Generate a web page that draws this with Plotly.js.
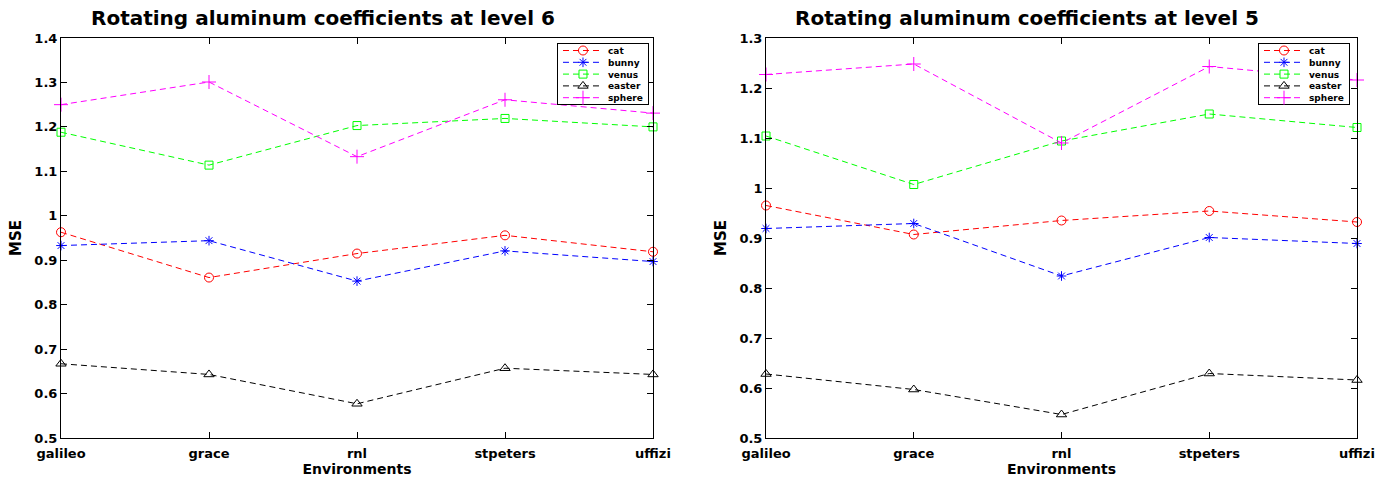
<!DOCTYPE html>
<html>
<head>
<meta charset="utf-8">
<script src="https://cdn.plot.ly/plotly-3.0.1.min.js"></script>
<style>html,body{margin:0;padding:0;background:#fff;}#chart{width:1390px;height:478px;}</style>
</head>
<body>
<div id="chart"></div>
<script>
const environments = ["galileo", "grace", "rnl", "stpeters", "uffizi"];
const seriesNames = ["cat", "bunny", "venus", "easter", "sphere"];

// Level 6 (left panel)
const level6Cat    = [0.963, 0.861, 0.915, 0.956, 0.919];
const level6Bunny  = [0.933, 0.944, 0.853, 0.921, 0.897];
const level6Venus  = [1.188, 1.114, 1.203, 1.219, 1.200];
const level6Easter = [0.667, 0.643, 0.577, 0.657, 0.643];
const level6Sphere = [1.250, 1.301, 1.133, 1.261, 1.231];

// Level 5 (right panel)
const level5Cat    = [0.965, 0.907, 0.935, 0.954, 0.932];
const level5Bunny  = [0.919, 0.929, 0.824, 0.901, 0.889];
const level5Venus  = [1.104, 1.007, 1.094, 1.148, 1.121];
const level5Easter = [0.628, 0.597, 0.547, 0.629, 0.616];
const level5Sphere = [1.227, 1.248, 1.090, 1.243, 1.216];

const titles = ["Rotating aluminum coefficients at level 6", "Rotating aluminum coefficients at level 5"];

const styles = [
  {color: "#ff0000", symbol: "circle-open", size: 9},
  {color: "#0000ff", symbol: "asterisk-open", size: 8},
  {color: "#00ff00", symbol: "square-open", size: 8},
  {color: "#000000", symbol: "triangle-up-open", size: 9},
  {color: "#ff00ff", symbol: "cross-thin-open", size: 10}
];

const FONT = "DejaVu Sans, Arial, sans-serif";
const panels = [
  {values: [level6Cat, level6Bunny, level6Venus, level6Easter, level6Sphere], xa: "x", ya: "y", legend: "legend"},
  {values: [level5Cat, level5Bunny, level5Venus, level5Easter, level5Sphere], xa: "x2", ya: "y2", legend: "legend2"}
];

const traces = [];
panels.forEach(p => {
  p.values.forEach((vals, i) => {
    const s = styles[i];
    traces.push({
      type: "scatter", mode: "lines+markers",
      x: environments, y: vals, name: seriesNames[i],
      xaxis: p.xa, yaxis: p.ya, legend: p.legend,
      cliponaxis: false,
      line: {color: s.color, width: 1, dash: "6px,4px"},
      marker: {symbol: s.symbol, size: s.size, color: s.color, line: {color: s.color, width: 1}},
      hoverinfo: "skip"
    });
  });
});

function xax(domain, anchor) {
  return {
    domain: domain, anchor: anchor, type: "category", range: [0, 4],
    showline: true, linecolor: "#000", linewidth: 1, mirror: "ticks",
    ticks: "inside", ticklen: 6, tickcolor: "#000", showgrid: false, zeroline: false,
    ticklabelstandoff: 3,
    tickfont: {family: FONT, size: 13, color: "#000", weight: "bold"},
    title: {text: "Environments", standoff: 0, font: {family: FONT, size: 14, color: "#000", weight: "bold"}},
    fixedrange: true
  };
}
function yax(range, anchor) {
  return {
    anchor: anchor, domain: [0, 1], range: range, dtick: 0.1, tick0: 0.5,
    showline: true, linecolor: "#000", linewidth: 1, mirror: "ticks",
    ticks: "inside", ticklen: 6, tickcolor: "#000", showgrid: false, zeroline: false,
    tickfont: {family: FONT, size: 13, color: "#000", weight: "bold"},
    title: {text: "MSE", standoff: 9, font: {family: FONT, size: 15, color: "#000", weight: "bold"}},
    fixedrange: true
  };
}

const legendBase = {
  y: 0.9875, yanchor: "top", xanchor: "right",
  bgcolor: "#fff", bordercolor: "#000", borderwidth: 1,
  font: {family: FONT, size: 9, color: "#000", weight: "bold"},
  tracegroupgap: 0, itemwidth: 40
};

const layout = {
  width: 1390, height: 478,
  margin: {l: 61, r: 33, t: 38, b: 40},
  paper_bgcolor: "#fff", plot_bgcolor: "#fff",
  showlegend: true,
  xaxis: xax([0, 0.4568], "y"),
  yaxis: yax([0.5, 1.4], "x"),
  xaxis2: xax([0.5440, 1], "y2"),
  yaxis2: yax([0.5, 1.3], "x2"),
  legend: Object.assign({}, legendBase, {x: 0.4537}),
  legend2: Object.assign({}, legendBase, {x: 0.9946}),
  annotations: [
    {text: titles[0], xref: "paper", yref: "paper", x: 0.2022, y: 1.05, xanchor: "center", yanchor: "middle",
     showarrow: false, font: {family: FONT, size: 20, color: "#000", weight: "bold"}},
    {text: titles[1], xref: "paper", yref: "paper", x: 0.7454, y: 1.05, xanchor: "center", yanchor: "middle",
     showarrow: false, font: {family: FONT, size: 20, color: "#000", weight: "bold"}}
  ]
};

Plotly.newPlot("chart", traces, layout, {displayModeBar: false, staticPlot: true}).then(() => {
  // Compact the legend rows to the tighter spacing of the reference.
  const step = 11.8, first = 7.5, boxH = 61;
  document.querySelectorAll("g.legend, g.legend2").forEach(leg => {
    const items = leg.querySelectorAll("g.traces");
    items.forEach((t, i) => {
      const m = /translate\(([-\d.]+)[ ,]+([-\d.]+)\)/.exec(t.getAttribute("transform") || "");
      const tx = m ? parseFloat(m[1]) : 0;
      t.setAttribute("transform", "translate(" + tx + "," + (first + step * i) + ")");
    });
    const bg = leg.querySelector("rect.bg");
    if (bg) bg.setAttribute("height", boxH);
  });
});
</script>
</body>
</html>
